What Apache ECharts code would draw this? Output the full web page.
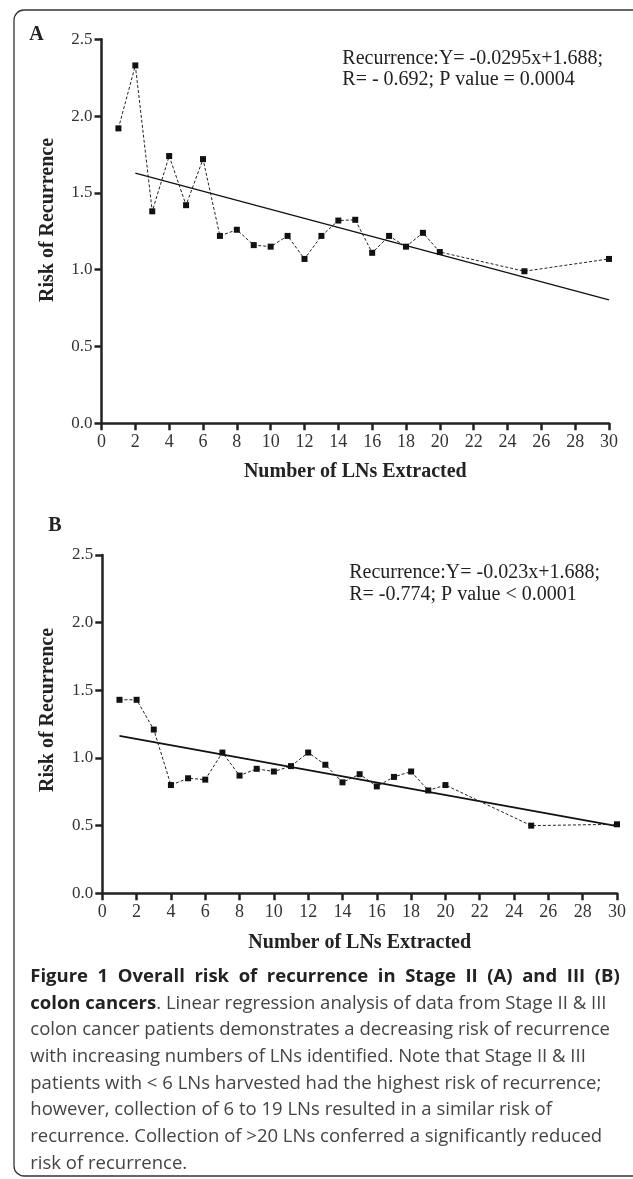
<!DOCTYPE html>
<html>
<head>
<meta charset="utf-8">
<script src="https://cdn.jsdelivr.net/npm/echarts@6/dist/echarts.min.js"></script>
<style>
html,body{margin:0;padding:0;background:#fff;}
#chart{width:633px;height:1179px;}
</style>
</head>
<body>
<div id="chart"></div>
<script>
// Number of lymph nodes extracted (x)
const lnCounts = [1,2,3,4,5,6,7,8,9,10,11,12,13,14,15,16,17,18,19,20,25,30];
// Panel A: Stage II risk of recurrence
const riskA = [1.92,2.33,1.38,1.74,1.42,1.72,1.22,1.26,1.16,1.15,1.22,1.07,1.22,1.32,1.325,1.11,1.22,1.15,1.24,1.115,0.99,1.07];
// Panel B: Stage III risk of recurrence
const riskB = [1.43,1.43,1.21,0.80,0.85,0.84,1.04,0.87,0.92,0.90,0.94,1.04,0.95,0.82,0.88,0.79,0.86,0.90,0.76,0.80,0.50,0.51];
// Regression line end points
const fitAx = [2,30];
const fitAy = [1.629,0.803];
const fitBx = [1,30];
const fitBy = [1.163,0.497];
// Texts
const annotA = ['Recurrence:Y= -0.0295x+1.688;','R= - 0.692; P value = 0.0004'];
const annotB = ['Recurrence:Y= -0.023x+1.688;','R= -0.774; P value < 0.0001'];
const yTitle = 'Risk of Recurrence';
const xTitle = 'Number of LNs Extracted';
const captionTitle = 'Figure 1 Overall risk of recurrence in Stage II (A) and III (B)';
const captionLines = [
  'colon cancers',
  '. Linear regression analysis of data from Stage II & III',
  'colon cancer patients demonstrates a decreasing risk of recurrence',
  'with increasing numbers of LNs identified. Note that Stage II & III',
  'patients with < 6 LNs harvested had the highest risk of recurrence;',
  'however, collection of 6 to 19 LNs resulted in a similar risk of',
  'recurrence. Collection of >20 LNs conferred a significantly reduced',
  'risk of recurrence.'
];

const serif = '"Liberation Serif", "Times New Roman", serif';
const sans = '"Open Sans", "Noto Sans", sans-serif';
const axisColor = '#222';

function pairs(xs, ys){ return xs.map((x,i)=>[x, ys[i]]); }

function xAxisCfg(idx){
  return {
    type:'value', gridIndex:idx, min:0, max:30, interval:2,
    axisLine:{show:true, onZero:false, lineStyle:{color:axisColor, width:2.5}},
    axisTick:{show:true, length:7, lineStyle:{color:axisColor, width:2.5}},
    axisLabel:{margin:10, color:'#333', fontFamily:serif, fontSize:18},
    splitLine:{show:false}
  };
}
function yAxisCfg(idx){
  return {
    type:'value', gridIndex:idx, min:0, max:2.5, interval:0.5,
    axisLine:{show:true, lineStyle:{color:axisColor, width:2.5}},
    axisTick:{show:true, length:7, lineStyle:{color:axisColor, width:2.5}},
    axisLabel:{margin:9, color:'#333', fontFamily:serif, fontSize:17, formatter:v=>v.toFixed(1)},
    splitLine:{show:false}
  };
}
function dataSeries(idx, ys){
  return {
    type:'line', xAxisIndex:idx, yAxisIndex:idx, data:pairs(lnCounts, ys),
    symbol:'rect', symbolSize:6, showSymbol:true,
    lineStyle:{color:'#222', width:1, type:[3,2]},
    itemStyle:{color:'#111'}, z:3
  };
}
function fitSeries(idx, xs, ys, w){
  return {
    type:'line', xAxisIndex:idx, yAxisIndex:idx, data:pairs(xs, ys),
    symbol:'none', lineStyle:{color:'#111', width:w, type:'solid'}, z:2
  };
}
function txt(x, y, text, font, opts){
  opts = opts || {};
  const align = opts.align || 'left';
  return {
    type:'text', x:x, y:y, rotation:opts.rotation || 0, z:10,
    style:{
      text:text, font:font, fill:opts.fill || '#222',
      align:align, verticalAlign:'middle',
      textAlign:align, textVerticalAlign:'middle'
    }
  };
}

const capSize = 18.5;
const capFont = capSize + 'px ' + sans;
const capBold = 'bold ' + capSize + 'px ' + sans;
const capColor = '#444';
const capLeft = 30.3, capRight = 619.7;
const capY0 = 976.7, capStep = 26.65;

const graphic = [
  {type:'rect', shape:{x:14, y:10, width:650, height:1166, r:10}, style:{fill:'none', stroke:'#333', lineWidth:1.3}, z:0},
  txt(36.5, 35, 'A', 'bold 20px ' + serif, {align:'center'}),
  txt(55, 525.5, 'B', 'bold 20px ' + serif, {align:'center'}),
  txt(342.3, 58.3, annotA[0], '20px ' + serif),
  txt(342.3, 80, annotA[1], '20px ' + serif),
  txt(349.2, 572.5, annotB[0], '20px ' + serif),
  txt(349.2, 595, annotB[1], '20px ' + serif),
  txt(48.3, 220, yTitle, 'bold 20px ' + serif, {align:'center', rotation:Math.PI/2}),
  txt(48.3, 710, yTitle, 'bold 20px ' + serif, {align:'center', rotation:Math.PI/2}),
  txt(355.3, 472.3, xTitle, 'bold 20px ' + serif, {align:'center'}),
  txt(359.7, 943.3, xTitle, 'bold 20px ' + serif, {align:'center'})
];

// Caption title line, justified across the caption width
(function(){
  const ctx = document.createElement('canvas').getContext('2d');
  ctx.font = capBold;
  const words = captionTitle.split(' ');
  const widths = words.map(w => ctx.measureText(w).width);
  const total = widths.reduce((a,b)=>a+b, 0);
  const gap = (capRight - capLeft - total) / (words.length - 1);
  let x = capLeft;
  words.forEach((w, i) => {
    graphic.push(txt(x, capY0, w, capBold, {fill:'#222'}));
    x += widths[i] + gap;
  });
})();

graphic.push({
  type:'text', x:capLeft, y:capY0 + capStep, z:10,
  style:{
    text:'{b|' + captionLines[0] + '}{r|' + captionLines[1] + '}',
    align:'left', verticalAlign:'middle', textAlign:'left', textVerticalAlign:'middle',
    rich:{
      b:{fontFamily:sans, fontWeight:'bold', fontSize:capSize, fill:'#222', color:'#222'},
      r:{fontFamily:sans, fontWeight:'normal', fontSize:capSize, fill:capColor, color:capColor}
    }
  }
});
for (let i = 2; i < captionLines.length; i++) {
  graphic.push(txt(capLeft, capY0 + capStep * i, captionLines[i], capFont, {fill:capColor}));
}

const chart = echarts.init(document.getElementById('chart'), null, {renderer:'canvas'});
chart.setOption({
  animation:false,
  backgroundColor:'#fff',
  grid:[
    {left:101.5, right:24, top:39.3, bottom:1179-423.3, containLabel:false},
    {left:102.3, right:16, top:555, bottom:1179-893.3, containLabel:false}
  ],
  xAxis:[xAxisCfg(0), xAxisCfg(1)],
  yAxis:[yAxisCfg(0), yAxisCfg(1)],
  series:[
    fitSeries(0, fitAx, fitAy, 1.3),
    dataSeries(0, riskA),
    fitSeries(1, fitBx, fitBy, 1.8),
    dataSeries(1, riskB)
  ],
  graphic:graphic
});
</script>
</body>
</html>
